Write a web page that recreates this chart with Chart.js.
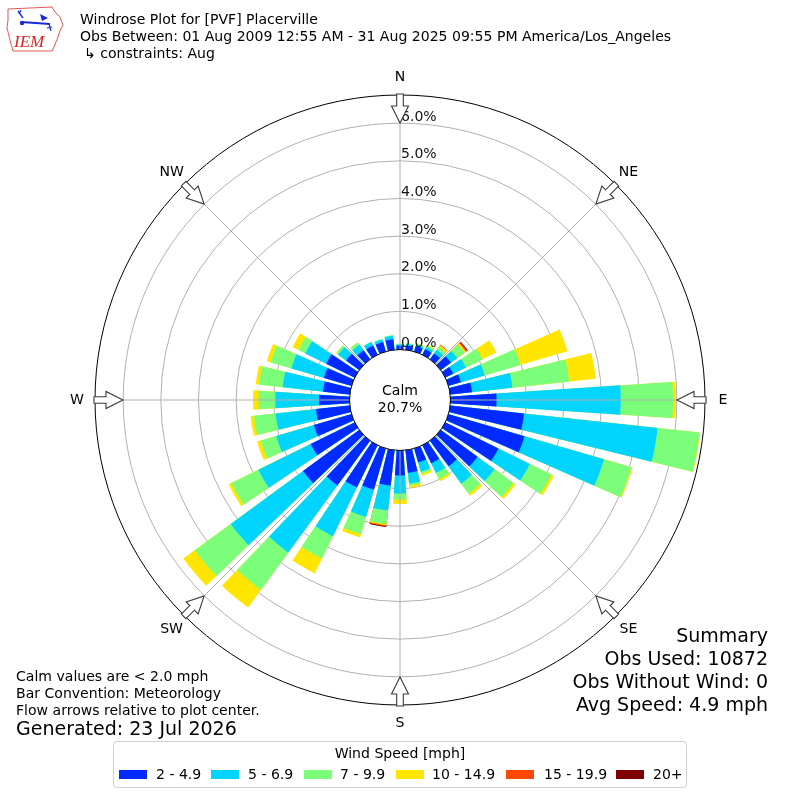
<!DOCTYPE html>
<html>
<head>
<meta charset="utf-8">
<script src="https://cdn.jsdelivr.net/npm/chart.js@4.4.0/dist/chart.umd.min.js"></script>
<style>
html,body{margin:0;padding:0;background:#fff;}
#wrap{position:relative;width:800px;height:800px;overflow:hidden;font-family:"DejaVu Sans",sans-serif;color:#000;}
#c{position:absolute;left:0;top:0;width:800px;height:800px;}
.t{position:absolute;white-space:nowrap;}
.sw{position:absolute;width:28px;height:9.5px;}
.f14{font-size:14.05px;line-height:14.05px;}
.f19{font-size:19px;line-height:19px;}
</style>
</head>
<body>
<div id="wrap">
<canvas id="c" width="800" height="800"></canvas>

<svg class="t" style="left:0;top:0" width="80" height="60" viewBox="0 0 80 60">
  <path d="M8,9 L52,7 L55,12 L60,17 L63,25 L60,31 L58,37 L56,42 L54,47 L52,51 L13,51 L11,44 L9,36 L7,28 L8,20 Z" fill="none" stroke="#d44" stroke-width="0.9"/>
  <line x1="21" y1="22" x2="50" y2="24" stroke="#1a2ad8" stroke-width="2"/>
  <circle cx="22" cy="23" r="2.2" fill="#1a2ad8"/>
  <path d="M18,11 L23,18 M21,10 L19,14" stroke="#1a2ad8" stroke-width="1.3" fill="none"/>
  <path d="M40,14 L48,18 L42,21 Z" fill="#1a2ad8"/>
  <path d="M49,24 L51,31 M47,28 L52,27" stroke="#1a2ad8" stroke-width="1.2" fill="none"/>
  <text x="14" y="47" font-family="Liberation Serif, serif" font-style="italic" font-size="17" fill="#d22">IEM</text>
</svg>

<div class="t f14" style="left:80px;top:12px;">Windrose Plot for [PVF] Placerville</div>
<div class="t f14" style="left:80px;top:29px;">Obs Between: 01 Aug 2009 12:55 AM - 31 Aug 2025 09:55 PM America/Los_Angeles</div>
<div class="t f14" style="left:84px;top:46px;">↳ constraints: Aug</div>

<div class="t f14" style="left:16px;top:669px;">Calm values are &lt; 2.0 mph</div>
<div class="t f14" style="left:16px;top:686px;">Bar Convention: Meteorology</div>
<div class="t f14" style="left:16px;top:703px;">Flow arrows relative to plot center.</div>
<div class="t f19" style="left:16px;top:719px;">Generated: 23 Jul 2026</div>

<div class="t f19" style="right:32px;top:626px;text-align:right;">Summary</div>
<div class="t f19" style="right:32px;top:649px;text-align:right;">Obs Used: 10872</div>
<div class="t f19" style="right:32px;top:672px;text-align:right;">Obs Without Wind: 0</div>
<div class="t f19" style="right:32px;top:695px;text-align:right;">Avg Speed: 4.9 mph</div>

<div class="t" style="left:113px;top:741px;width:572px;height:45px;border:1px solid #d0d0d0;border-radius:4px;"></div>
<div class="t f14" style="left:113px;top:746px;width:574px;text-align:center;">Wind Speed [mph]</div>
<div id="legendItems"></div>

<script>
// ---------------- data ----------------
const directions = [0,10,20,30,40,50,60,70,80,90,100,110,120,130,140,150,160,170,
                    180,190,200,210,220,230,240,250,260,270,280,290,300,310,320,330,340,350];
const speedBins = ['2 - 4.9','5 - 6.9','7 - 9.9','10 - 14.9','15 - 19.9','20+'];
const binColors = ['#002AFF','#00D4FF','#7BFF7B','#FFE500','#FF4900','#7F0000'];
// percent of observations per direction and speed bin
const pct2to5   = [0.09,0.10,0.14,0.15,0.18,0.32,0.22,0.33,0.57,1.21,1.96,2.09,1.56,1.20,0.83,0.52,0.37,0.59,
                   0.65,0.93,1.13,1.24,1.46,1.84,1.29,1.03,0.89,0.80,0.70,0.75,0.83,0.42,0.28,0.26,0.25,0.27];
const pct5to7   = [0.03,0.04,0.04,0.07,0.12,0.21,0.38,0.66,1.08,3.30,3.57,2.20,0.93,0.56,0.57,0.29,0.26,0.29,
                   0.48,0.67,0.75,1.44,2.21,2.38,1.55,1.04,1.08,1.16,1.08,0.90,0.62,0.26,0.19,0.10,0.07,0.09];
const pct7to10  = [0.02,0.03,0.03,0.05,0.10,0.24,0.49,0.99,1.52,1.39,1.12,0.76,0.64,0.62,0.33,0.18,0.06,0.05,
                   0.16,0.36,0.48,0.66,1.23,1.18,0.80,0.43,0.58,0.44,0.63,0.57,0.20,0.06,0.07,0.02,0.02,0.02];
const pct10to15 = [0.00,0.00,0.01,0.02,0.05,0.05,0.41,1.30,0.71,0.08,0.02,0.03,0.07,0.07,0.07,0.06,0.05,0.06,
                   0.12,0.03,0.09,0.44,0.58,0.38,0.08,0.10,0.09,0.15,0.09,0.11,0.18,0.01,0.01,0.00,0.00,0.00];
const pct15to20 = [0.00,0.00,0.00,0.00,0.02,0.04,0.00,0.00,0.00,0.00,0.00,0.00,0.00,0.00,0.00,0.00,0.00,0.00,
                   0.00,0.03,0.00,0.00,0.00,0.00,0.00,0.00,0.00,0.00,0.00,0.00,0.00,0.00,0.00,0.00,0.00,0.00];
const pct20plus = [0.00,0.00,0.00,0.00,0.00,0.02,0.00,0.00,0.00,0.00,0.00,0.00,0.00,0.00,0.00,0.00,0.00,0.00,
                   0.00,0.02,0.00,0.00,0.00,0.00,0.00,0.00,0.00,0.00,0.00,0.00,0.00,0.00,0.00,0.00,0.00,0.00];
const ringTicks = [0,1,2,3,4,5,6];
const compassLabels = ['N','NE','E','SE','S','SW','W','NW'];
const calmPct = 20.7;

// ---------------- legend ----------------
const legendSwatchX = [119,211,304,396,506,616];
const legendLabelX  = [156,248,340,432,544,653];
const li = document.getElementById('legendItems');
speedBins.forEach((b, k) => {
  const s = document.createElement('div');
  s.className = 'sw';
  s.style.left = legendSwatchX[k] + 'px'; s.style.top = '769.5px'; s.style.background = binColors[k];
  li.appendChild(s);
  const t = document.createElement('div');
  t.className = 't f14';
  t.style.left = legendLabelX[k] + 'px'; t.style.top = '767px';
  t.textContent = b;
  li.appendChild(t);
});

// ---------------- chart ----------------
const BAR_DEG = 7.6, GAP_DEG = 10 - BAR_DEG;
const series = [pct2to5, pct5to7, pct7to10, pct10to15, pct15to20, pct20plus];
const labels = [];
directions.forEach(d => { labels.push(d + '°'); labels.push(''); });

const datasets = series.map((s, k) => {
  const data = [];
  const show = [];
  directions.forEach((d, i) => {
    let cum = 0;
    for (let j = 0; j <= k; j++) cum += series[j][i];
    data.push(cum, 0);
    show.push(s[i] > 0, false);
  });
  return {
    label: speedBins[k],
    data: data,
    backgroundColor: (ctx) => show[ctx.dataIndex] ? binColors[k] : 'rgba(0,0,0,0)',
    borderWidth: 0,
    borderColor: 'rgba(0,0,0,0)',
    angle: (ctx) => (ctx.dataIndex % 2 === 0 ? BAR_DEG : GAP_DEG)
  };
});

const decor = {
  id: 'decor',
  afterDraw(chart) {
    const ctx = chart.ctx;
    const sc = chart.scales.r;
    const cx = sc.xCenter, cy = sc.yCenter;
    const R = sc.drawingArea;
    const r0 = sc.getDistanceFromCenterForValue(0);
    ctx.save();
    // angle lines
    ctx.strokeStyle = '#b0b0b0';
    ctx.lineWidth = 1;
    for (let k = 0; k < 8; k++) {
      const a = k * Math.PI / 4;
      ctx.beginPath();
      ctx.moveTo(cx + r0 * Math.sin(a), cy - r0 * Math.cos(a));
      ctx.lineTo(cx + R * Math.sin(a), cy - R * Math.cos(a));
      ctx.stroke();
    }
    // outer circle
    ctx.strokeStyle = '#000';
    ctx.beginPath(); ctx.arc(cx, cy, R, 0, Math.PI * 2); ctx.stroke();
    // calm circle
    ctx.fillStyle = '#fff';
    ctx.beginPath(); ctx.arc(cx, cy, r0 - 0.5, 0, Math.PI * 2); ctx.fill(); ctx.stroke();
    // ring labels
    ctx.fillStyle = '#111';
    ctx.font = '14.05px "DejaVu Sans"';
    ctx.textAlign = 'left';
    ctx.textBaseline = 'alphabetic';
    ringTicks.forEach(v => {
      const r = sc.getDistanceFromCenterForValue(v);
      ctx.fillText(v.toFixed(1) + '%', cx + 1, cy - r - 2.5);
    });
    // flow arrows
    for (let k = 0; k < 8; k++) {
      const a = k * Math.PI / 4;
      ctx.save();
      ctx.translate(cx, cy);
      ctx.rotate(a);
      ctx.beginPath();
      ctx.moveTo(-3.3, -R - 1);
      ctx.lineTo(-3.3, -R + 11);
      ctx.lineTo(-8.5, -R + 11);
      ctx.lineTo(0, -R + 28);
      ctx.lineTo(8.5, -R + 11);
      ctx.lineTo(3.3, -R + 11);
      ctx.lineTo(3.3, -R - 1);
      ctx.closePath();
      ctx.fillStyle = '#fff';
      ctx.fill();
      ctx.strokeStyle = '#3a3a3a';
      ctx.lineWidth = 1.1;
      ctx.stroke();
      ctx.restore();
    }
    // compass labels
    ctx.fillStyle = '#000';
    ctx.textAlign = 'center';
    ctx.textBaseline = 'middle';
    compassLabels.forEach((lab, k) => {
      const a = k * Math.PI / 4;
      ctx.fillText(lab, cx + (R + 18) * Math.sin(a), cy - (R + 18) * Math.cos(a) + 0.5);
    });
    // calm text
    ctx.fillText('Calm', cx, cy - 9);
    ctx.fillText(calmPct.toFixed(1) + '%', cx, cy + 8);
    ctx.restore();
  }
};

new Chart(document.getElementById('c'), {
  type: 'polarArea',
  data: { labels: labels, datasets: datasets },
  options: {
    responsive: false,
    animation: false,
    devicePixelRatio: 1,
    layout: { padding: { left: 95, right: 95, top: 95, bottom: 95 } },
    plugins: { legend: { display: false }, tooltip: { enabled: false } },
    scales: {
      r: {
        type: 'radialLinear',
        min: -1.355,
        max: 6.75,
        startAngle: -BAR_DEG / 2,
        z: 1,
        ticks: { display: false },
        afterBuildTicks: (s) => { s.ticks = ringTicks.map(v => ({ value: v })); },
        grid: {
          circular: true,
          lineWidth: 1,
          color: (c) => (c.tick && c.tick.value === 0) ? 'rgba(0,0,0,0)' : '#b0b0b0'
        },
        angleLines: { display: false },
        pointLabels: { display: false }
      }
    }
  },
  plugins: [decor]
});
</script>
</div>
</body>
</html>
